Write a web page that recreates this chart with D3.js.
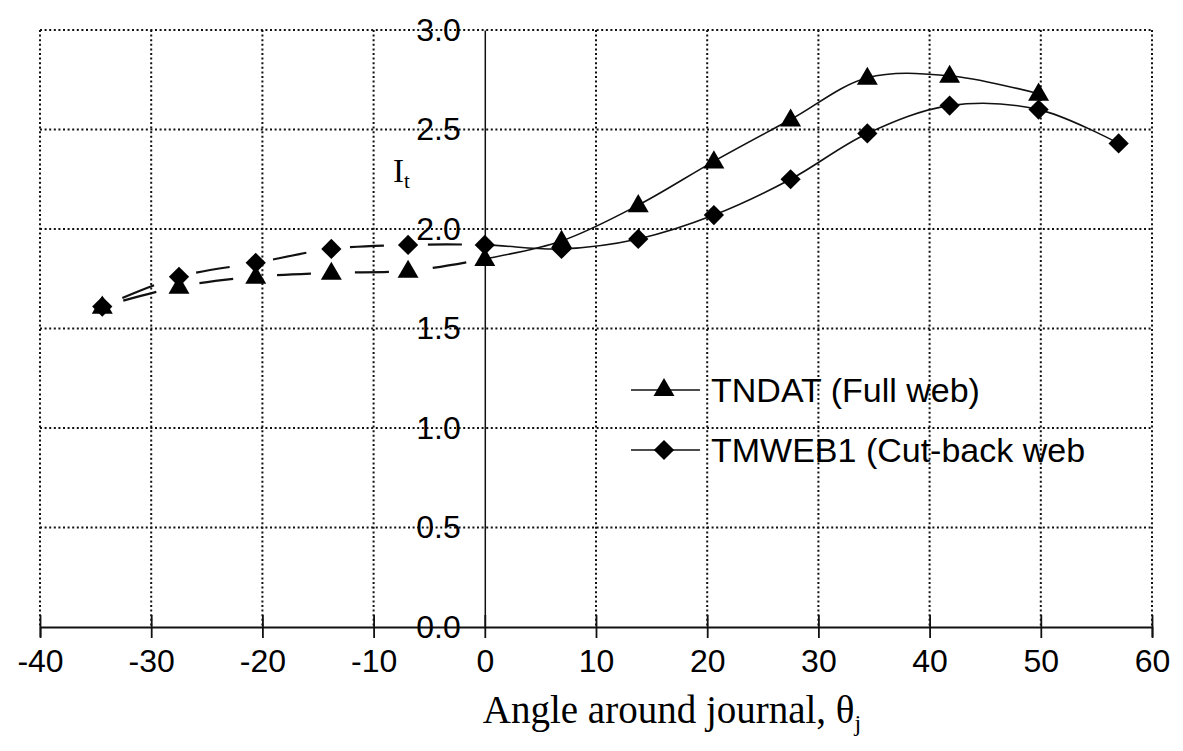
<!DOCTYPE html>
<html>
<head>
<meta charset="utf-8">
<script src="https://cdn.jsdelivr.net/npm/d3@7"></script>
<style>
  body { margin: 0; background: #fff; }
  svg { display: block; }
</style>
</head>
<body>
<svg id="chart" width="1183" height="751"></svg>
<script>
// Axis ticks
const angleTicks = [-40, -30, -20, -10, 0, 10, 20, 30, 40, 50, 60];
const itTicks = [0, 0.5, 1.0, 1.5, 2.0, 2.5, 3.0];

// TNDAT (full web)
const tndatAngle = [-34.4, -27.5, -20.6, -13.8, -6.9, 0, 6.9, 13.8, 20.6, 27.5, 34.4, 41.8, 49.8];
const tndatIt    = [1.61, 1.71, 1.76, 1.78, 1.79, 1.85, 1.94, 2.12, 2.34, 2.55, 2.76, 2.77, 2.68];

// TMWEB1 (cut-back web)
const tmwebAngle = [-34.4, -27.5, -20.6, -13.8, -6.9, 0, 6.9, 13.8, 20.6, 27.5, 34.4, 41.8, 49.8, 57.0];
const tmwebIt    = [1.61, 1.76, 1.83, 1.90, 1.92, 1.92, 1.90, 1.95, 2.07, 2.25, 2.48, 2.62, 2.60, 2.43];

const seriesNames = ["TNDAT (Full web)", "TMWEB1 (Cut-back web"];

const svg = d3.select("#chart");
const sans = "'Liberation Sans', Arial, sans-serif";
const serif = "'Liberation Serif', 'Times New Roman', serif";

const x = d3.scaleLinear().domain([-40, 60]).range([40, 1152]);
const y = d3.scaleLinear().domain([0, 3]).range([627, 30]);

// dotted gridlines
const grid = svg.append("g")
  .attr("stroke", "#111")
  .attr("stroke-width", 2)
  .attr("stroke-dasharray", "2,2.6");
grid.selectAll("line.hgrid")
  .data(itTicks.filter(d => d > 0))
  .join("line")
  .attr("class", "hgrid")
  .attr("x1", x(-40)).attr("x2", x(60))
  .attr("y1", d => y(d)).attr("y2", d => y(d));
grid.selectAll("line.vgrid")
  .data(angleTicks.filter(d => d !== 0))
  .join("line")
  .attr("class", "vgrid")
  .attr("x1", d => x(d)).attr("x2", d => x(d))
  .attr("y1", y(3)).attr("y2", y(0));

// x axis along It = 0
const xAxis = svg.append("g")
  .attr("transform", `translate(0,${y(0)})`)
  .call(d3.axisBottom(x).tickValues(angleTicks).tickSizeOuter(0).tickSize(10).tickPadding(12)
        .tickFormat(d3.format("d")));
xAxis.select(".domain").attr("stroke", "#111").attr("stroke-width", 1.8);
xAxis.selectAll(".tick line").attr("y1", -12).attr("y2", 11).attr("stroke", "#111").attr("stroke-width", 1.8);
xAxis.selectAll(".tick text")
  .attr("font-family", sans).attr("font-size", 32).attr("fill", "#000")
  .text(d => d < 0 ? "-" + Math.abs(d) : d);

// y axis along angle = 0
const yAxis = svg.append("g")
  .attr("transform", `translate(${x(0)},0)`)
  .call(d3.axisLeft(y).tickValues(itTicks).tickSizeOuter(0).tickSize(0).tickPadding(24)
        .tickFormat(d3.format(".1f")));
yAxis.select(".domain").attr("stroke", "#111").attr("stroke-width", 1.5);
yAxis.selectAll(".tick text")
  .attr("font-family", sans).attr("font-size", 32).attr("fill", "#000");

// axis titles
svg.append("text")
  .attr("x", 672).attr("y", 723)
  .attr("text-anchor", "middle")
  .attr("font-family", serif).attr("font-size", 39).attr("fill", "#000")
  .text("Angle around journal, θ")
  .append("tspan").attr("font-size", 24).attr("dy", 8).text("j");

svg.append("text")
  .attr("x", 393).attr("y", 182)
  .attr("font-family", serif).attr("font-size", 33).attr("fill", "#000")
  .text("I")
  .append("tspan").attr("font-size", 21).attr("dy", 6).text("t");

// clip regions: left half drawn broken, right half solid
const defs = svg.append("defs");
defs.append("clipPath").attr("id", "clipLeft")
  .append("rect").attr("x", 0).attr("y", 0).attr("width", x(0)).attr("height", 751);
defs.append("clipPath").attr("id", "clipRight")
  .append("rect").attr("x", x(0)).attr("y", 0).attr("width", 1183 - x(0)).attr("height", 751);

const line = d3.line()
  .x(d => x(d[0])).y(d => y(d[1]))
  .curve(d3.curveCatmullRom.alpha(0.5));

const tndat = tndatAngle.map((a, i) => [a, tndatIt[i]]);
const tmweb = tmwebAngle.map((a, i) => [a, tmwebIt[i]]);

[tndat, tmweb].forEach(data => {
  svg.append("path")
    .attr("d", line(data))
    .attr("fill", "none").attr("stroke", "#111").attr("stroke-width", 1.6)
    .attr("clip-path", "url(#clipRight)");
  svg.append("path")
    .attr("d", line(data))
    .attr("fill", "none").attr("stroke", "#111").attr("stroke-width", 2.2)
    .attr("stroke-dasharray", "0,22,34,22")
    .attr("clip-path", "url(#clipLeft)");
});

const triangle = d3.symbol().type(d3.symbolTriangle).size(190);
const diamond = d3.symbol().type(d3.symbolSquare).size(205);

svg.append("g").selectAll("path")
  .data(tndat).join("path")
  .attr("d", triangle)
  .attr("transform", d => `translate(${x(d[0])},${y(d[1]) + 1})`)
  .attr("fill", "#000");

svg.append("g").selectAll("path")
  .data(tmweb).join("path")
  .attr("d", diamond)
  .attr("transform", d => `translate(${x(d[0])},${y(d[1])}) rotate(45)`)
  .attr("fill", "#000");

// legend
const legend = svg.append("g");
const legendRows = [
  { name: seriesNames[0], sym: triangle, rot: 0, y: 390 },
  { name: seriesNames[1], sym: diamond, rot: 45, y: 450 }
];
legendRows.forEach(r => {
  legend.append("line")
    .attr("x1", 631).attr("x2", 700).attr("y1", r.y).attr("y2", r.y)
    .attr("stroke", "#111").attr("stroke-width", 1.6);
  legend.append("path")
    .attr("d", r.sym)
    .attr("transform", `translate(664,${r.y}) rotate(${r.rot})`)
    .attr("fill", "#000");
  legend.append("text")
    .attr("x", 711).attr("y", r.y + 12)
    .attr("font-family", sans).attr("font-size", 34).attr("fill", "#000")
    .text(r.name);
});
</script>
</body>
</html>
